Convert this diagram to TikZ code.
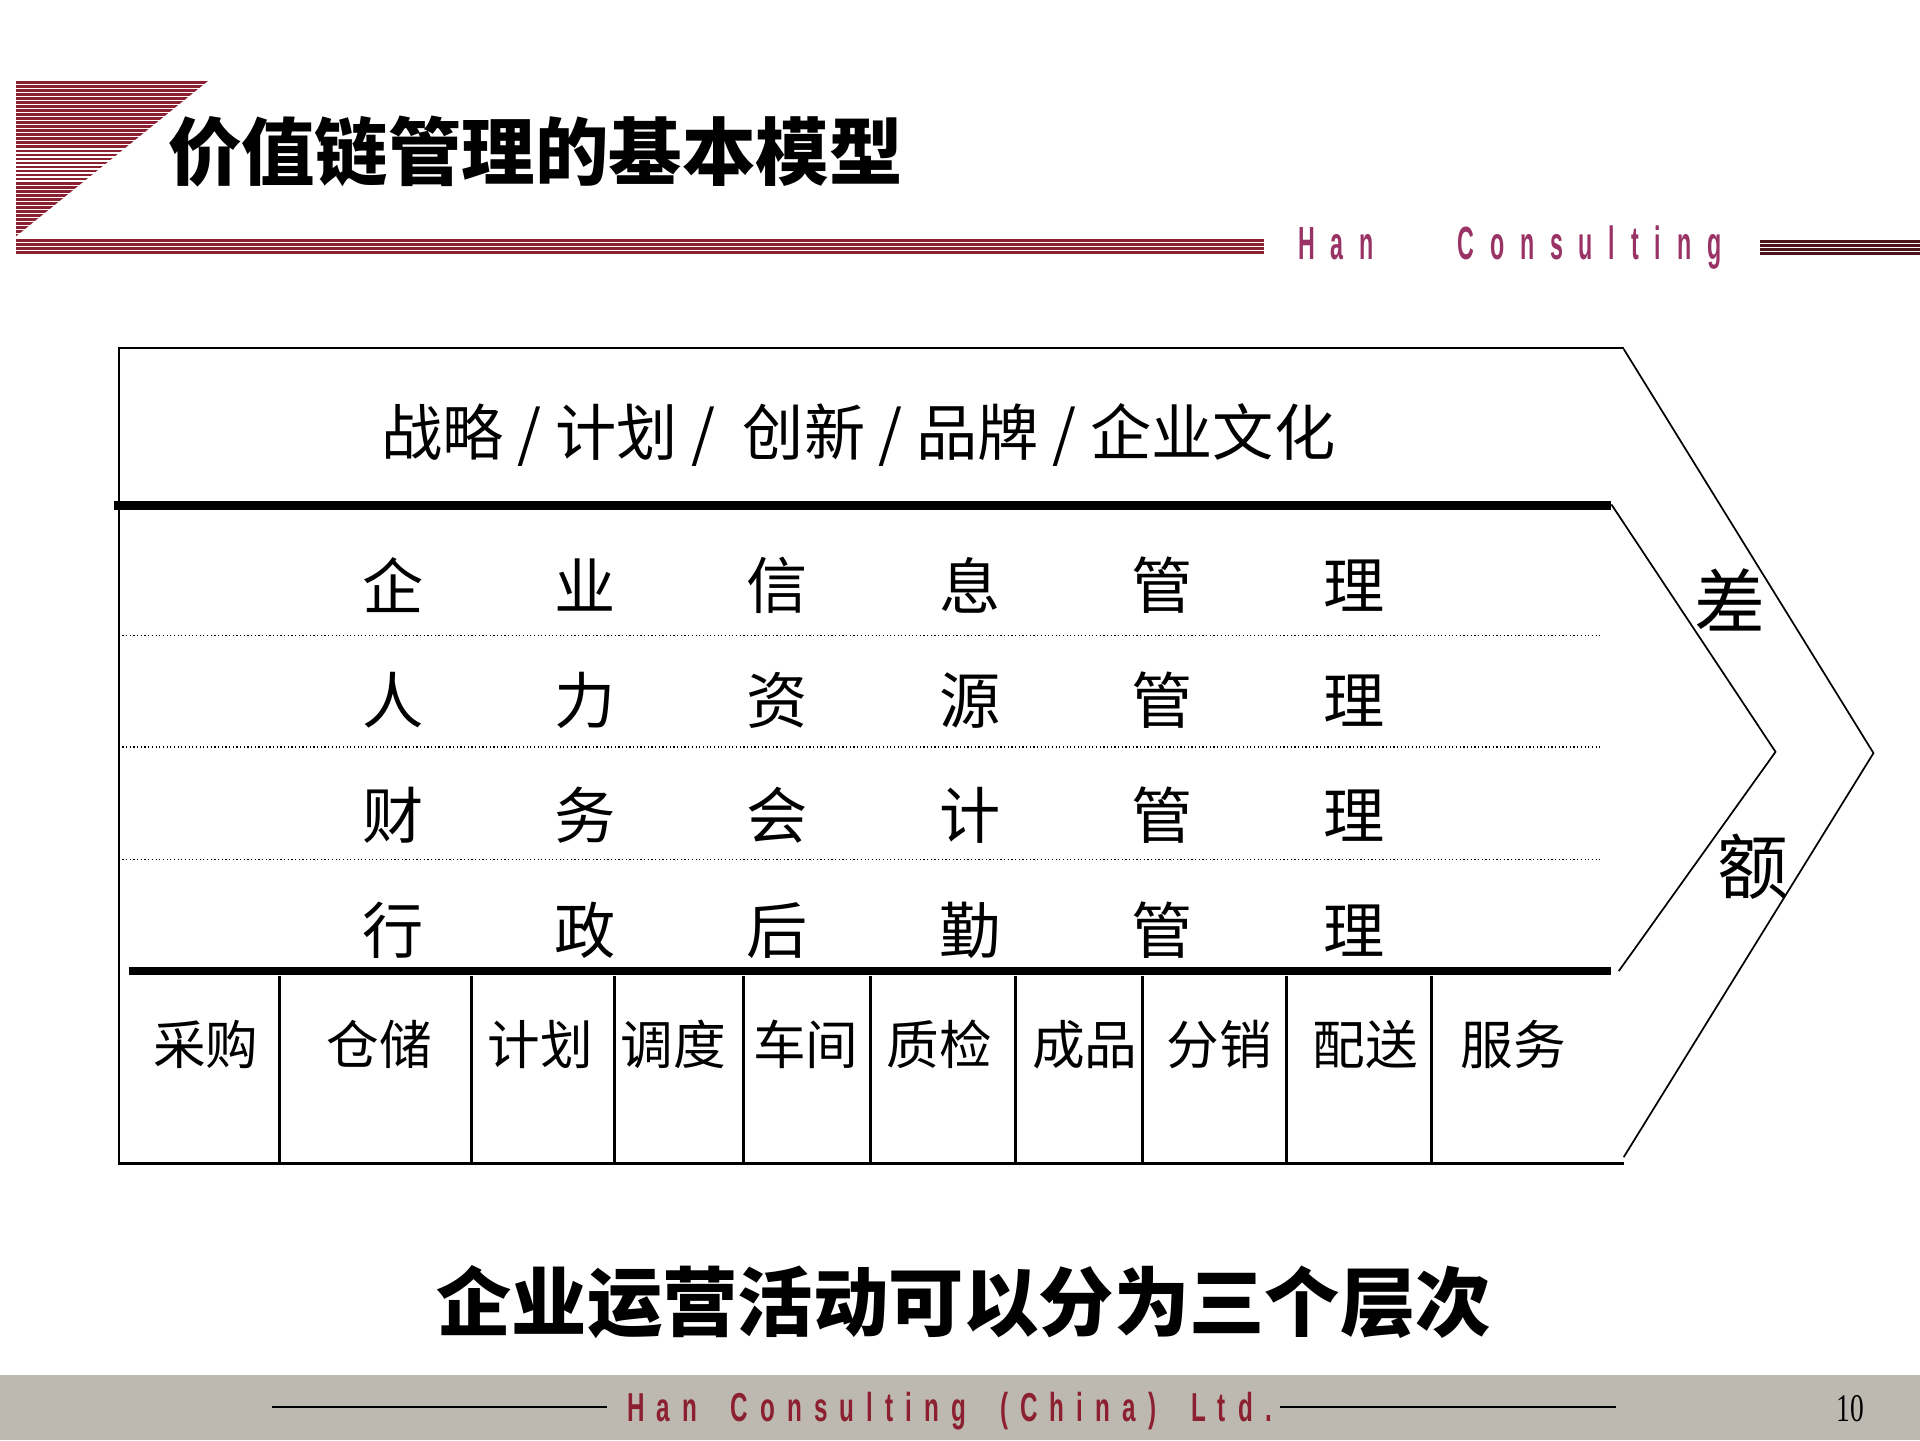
\documentclass[tikz,border=0pt]{standalone}
\usepackage{fontspec}
\usepackage{tikz}
\newfontfamily\cjk{Noto Sans CJK SC}
\newfontfamily\hanfont[FakeStretch=0.5,LetterSpace=34]{Liberation Sans Bold}
\newfontfamily\footfont[FakeStretch=0.6,LetterSpace=30]{Liberation Sans Bold}
\newfontfamily\pagefont[FakeStretch=0.7]{Liberation Serif}
\definecolor{stripered}{RGB}{140,32,48}
\definecolor{stripedark}{RGB}{75,20,24}
\definecolor{hanpink}{RGB}{153,51,102}
\definecolor{footgray}{RGB}{189,185,176}

\begin{document}
\begin{tikzpicture}[x=1pt,y=-1pt,
    cell/.style={inner sep=0pt, font=\cjk\fontsize{50}{50}\selectfont},
    tab/.style={inner sep=0pt, font=\cjk\fontsize{43}{43}\selectfont},
    frame/.style={line width=2pt},
    bar/.style={line width=7pt},
    chev/.style={line width=1.4pt},
    rowline/.style={line width=1pt, dash pattern=on 1pt off 2pt}]
        \useasboundingbox (0,0) rectangle (1568,1176);

        % Header stripes
        \begin{scope}
            \clip (13,66) -- (170,66) -- (13,193) -- cycle;
            \foreach \y in {66,69.3,...,193} {
                \fill[stripered] (13,\y) rectangle (170,\y+2.2);
            }
        \end{scope}
        \foreach \y in {195,198.4,201.8,205.2} {
            \fill[stripered] (13,\y) rectangle (1032,\y+2.3);
            \fill[stripedark] (1437,\y+1) rectangle (1568,\y+3.3);
        }
        \node[anchor=west, inner sep=0pt, font=\cjk\bfseries\fontsize{60}{60}\selectfont] (title) at (137,124) {价值链管理的基本模型};
        \node[anchor=base west, inner sep=0pt, text=hanpink, font=\hanfont\fontsize{38}{38}\selectfont] (han) at (1060,212) {Han};
        \node[anchor=base west, inner sep=0pt, text=hanpink, font=\hanfont\fontsize{38}{38}\selectfont] (consulting) at (1190,212) {Consulting};

        % Frame and chevrons
        \draw[frame] (1326,284) -- (97,284) -- (97,950) -- (1326,950);
        \draw[bar] (93,413) -- (1316,413);
        \draw[bar] (105,793) -- (1316,793);
        \draw[chev] (1316,412) -- (1450,614) -- (1322,793);
        \draw[chev] (1326,285) -- (1530,615) -- (1326,945);

        % Dotted lines between rows
        \draw[rowline] (97,519) -- (1308,519);
        \draw[rowline] (97,610) -- (1308,610);
        \draw[rowline] (97,702) -- (1308,702);

        % Top layer
        \node[inner sep=0pt, font=\cjk\fontsize{50}{50}\selectfont] (strategy) at (701,355) {战略\ / 计划\ /\ \ 创新\ / 品牌\ / 企业文化};

        % Middle layer
        \foreach \ch [count=\i] in {企,业,信,息,管,理}
            \node[cell] (ra\i) at ({321+157*(\i-1)},478) {\ch};
        \foreach \ch [count=\i] in {人,力,资,源,管,理}
            \node[cell] (rb\i) at ({321+157*(\i-1)},572) {\ch};
        \foreach \ch [count=\i] in {财,务,会,计,管,理}
            \node[cell] (rc\i) at ({321+157*(\i-1)},666) {\ch};
        \foreach \ch [count=\i] in {行,政,后,勤,管,理}
            \node[cell] (rd\i) at ({321+157*(\i-1)},760) {\ch};

        % Margin labels
        \node[inner sep=0pt, font=\cjk\fontsize{58}{58}\selectfont] (cha) at (1413,490) {差};
        \node[inner sep=0pt, font=\cjk\fontsize{58}{58}\selectfont] (e) at (1432,708) {额};

        % Bottom layer
        \foreach \x in {228,385,502,607,711,829,933,1051,1169}
            \draw[line width=2.5pt] (\x,797) -- (\x,950);
        \node[tab] (purchase) at (168,853) {采购};
        \node[tab] (storage) at (310,853) {仓储};
        \node[tab] (plan) at (441,853) {计划};
        \node[tab] (dispatch) at (550,853) {调度};
        \node[tab] (workshop) at (658,853) {车间};
        \node[tab] (inspect) at (767,853) {质检};
        \node[tab] (product) at (886,853) {成品};
        \node[tab] (distrib) at (996,853) {分销};
        \node[tab] (delivery) at (1115,853) {配送};
        \node[tab] (service) at (1236,853) {服务};

        % Caption
        \node[inner sep=0pt, font=\cjk\bfseries\fontsize{61.5}{62}\selectfont] (caption) at (787,1063) {企业运营活动可以分为三个层次};

        % Footer
        \fill[footgray] (0,1123) rectangle (1568,1176);
        \draw[line width=2pt] (222,1149) -- (496,1149);
        \draw[line width=2pt] (1045,1149) -- (1320,1149);
        \node[anchor=base west, inner sep=0pt, text=stripered, font=\footfont\fontsize{33}{33}\selectfont] (company) at (512,1161) {Han\hspace{12pt} Consulting\hspace{12pt} (China)\hspace{13pt} Ltd.};
        \node[anchor=base, inner sep=0pt, font=\pagefont\fontsize{32}{32}\selectfont] (page) at (1511,1161) {10};
\end{tikzpicture}
\end{document}
